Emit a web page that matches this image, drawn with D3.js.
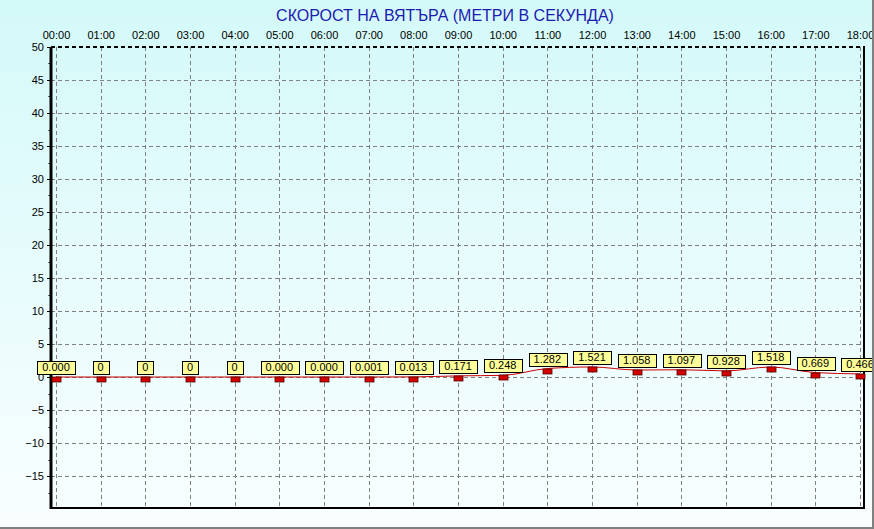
<!DOCTYPE html>
<html><head><meta charset="utf-8">
<script src="https://cdn.jsdelivr.net/npm/d3@7"></script>
<style>body{margin:0;padding:0;overflow:hidden;background:#fff}svg{display:block}</style>
</head><body>
<svg id="chart" width="874" height="529"></svg>
<script>
const hours = ["00:00","01:00","02:00","03:00","04:00","05:00","06:00","07:00","08:00","09:00","10:00","11:00","12:00","13:00","14:00","15:00","16:00","17:00","18:00"];
const windValues = [0, 0, 0, 0, 0, 0, 0, 0.001, 0.013, 0.171, 0.248, 1.282, 1.521, 1.058, 1.097, 0.928, 1.518, 0.669, 0.466];
const valueLabels = ["0.000","0","0","0","0","0.000","0.000","0.001","0.013","0.171","0.248","1.282","1.521","1.058","1.097","0.928","1.518","0.669","0.466"];
const yTicks = [50,45,40,35,30,25,20,15,10,5,0,-5,-10,-15];
const title = "СКОРОСТ НА ВЯТЪРА (МЕТРИ В СЕКУНДА)";

const svg = d3.select("#chart");
const W = 874, H = 529;
const plot = {left: 51, right: 864, top: 47, bottom: 508};

const defs = svg.append("defs");
const grad = defs.append("linearGradient").attr("id","bg").attr("x1",0).attr("y1",0).attr("x2",0).attr("y2",1);
grad.append("stop").attr("offset","0%").attr("stop-color","#d4f9f9");
grad.append("stop").attr("offset","100%").attr("stop-color","#f9feff");

svg.append("rect").attr("x",0).attr("y",0).attr("width",W).attr("height",H).attr("fill","url(#bg)");

const x = d3.scalePoint().domain(hours).range([56, 860]);
const y = d3.scaleLinear().domain([-20, 50]).range([509, plot.top]);

// grid
const grid = svg.append("g");
grid.selectAll(".vg").data(hours).join("line")
  .attr("x1", d => Math.round(x(d)) + 0.5).attr("x2", d => Math.round(x(d)) + 0.5)
  .attr("y1", plot.top).attr("y2", plot.bottom)
  .attr("stroke","#808080").attr("stroke-dasharray","4,3").attr("stroke-width",1);
grid.selectAll(".hg").data(yTicks.filter(v => v !== 50)).join("line")
  .attr("x1", plot.left).attr("x2", plot.right)
  .attr("y1", d => Math.round(y(d)) + 0.5).attr("y2", d => Math.round(y(d)) + 0.5)
  .attr("stroke","#808080").attr("stroke-dasharray","4,3").attr("stroke-width",1);

// borders
svg.append("line").attr("x1",plot.left).attr("x2",plot.right).attr("y1",plot.top).attr("y2",plot.top)
  .attr("stroke","#000").attr("stroke-width",2).attr("stroke-dasharray","4,3");
svg.append("line").attr("x1",plot.right).attr("x2",plot.right).attr("y1",plot.top - 1).attr("y2",plot.bottom)
  .attr("stroke","#000").attr("stroke-width",2);
svg.append("line").attr("x1",plot.left).attr("x2",plot.right + 1).attr("y1",plot.bottom).attr("y2",plot.bottom)
  .attr("stroke","#000").attr("stroke-width",2);

// y axis
const yAxis = d3.axisLeft(y).tickValues(yTicks).tickSize(4).tickPadding(3).tickFormat(d3.format("d"));
const ya = svg.append("g").attr("transform",`translate(${plot.left},0)`).call(yAxis);
ya.select(".domain").remove();
svg.append("line").attr("x1",plot.left).attr("x2",plot.left).attr("y1",plot.top).attr("y2",plot.bottom + 1)
  .attr("stroke","#000").attr("stroke-width",3);
ya.selectAll(".tick line").attr("stroke","#000");
ya.selectAll("text").attr("font-family","Liberation Sans, Arial, sans-serif").attr("font-size","11px").attr("fill","#000");
// minor ticks
const minor = d3.range(-20, 50, 2.5).filter(v => v % 5 !== 0);
svg.append("g").selectAll("line").data(minor).join("line")
  .attr("x1", plot.left - 2.5).attr("x2", plot.left)
  .attr("y1", d => Math.round(y(d)) + 0.5).attr("y2", d => Math.round(y(d)) + 0.5).attr("stroke","#000");

// x axis at top
const xAxis = d3.axisTop(x).tickSize(0).tickPadding(8);
const xa = svg.append("g").attr("transform",`translate(0,${plot.top})`).call(xAxis);
xa.select(".domain").remove();
xa.selectAll("text").attr("font-family","Liberation Sans, Arial, sans-serif").attr("font-size","11px").attr("fill","#000");

// title
svg.append("text").attr("x", 445).attr("y", 21).attr("text-anchor","middle")
  .attr("font-family","Liberation Sans, Arial, sans-serif").attr("font-size","16px").attr("fill","#1c1cb0")
  .text(title);

// line
const line = d3.line().x((d,i) => x(hours[i])).y(d => y(d)).curve(d3.curveMonotoneX);
svg.append("path").datum(windValues).attr("d", line).attr("fill","none").attr("stroke","#cc0000").attr("stroke-width",1);

// markers
svg.append("g").selectAll("rect").data(windValues).join("rect")
  .attr("x", (d,i) => Math.round(x(hours[i])) - 4).attr("y", d => Math.round(y(d)))
  .attr("width", 9).attr("height", 5)
  .attr("fill","#d40000").attr("stroke","#500000").attr("stroke-width",0.8);

// labels
const lg = svg.append("g");
windValues.forEach((v,i) => {
  const cx = x(hours[i]);
  const cy = y(v);
  const t = lg.append("text").attr("x", cx).attr("y", cy - 6).attr("text-anchor","middle")
    .attr("font-family","Liberation Sans, Arial, sans-serif").attr("font-size","11px").attr("fill","#000")
    .text(valueLabels[i]);
  const bb = t.node().getBBox();
  lg.insert("rect", "text").attr("x", Math.round(cx - bb.width/2 - 5) + 0.5).attr("y", Math.round(cy - 16) + 0.5)
    .attr("width", Math.round(bb.width + 10)).attr("height", 13)
    .attr("fill","#ffff99").attr("stroke","#000").attr("stroke-width",1);
});

// window frame
svg.append("line").attr("x1",0).attr("x2",W).attr("y1",528).attr("y2",528).attr("stroke","#808080").attr("stroke-width",2);
svg.append("line").attr("x1",873).attr("x2",873).attr("y1",0).attr("y2",H).attr("stroke","#808080").attr("stroke-width",2);
</script>
</body></html>
